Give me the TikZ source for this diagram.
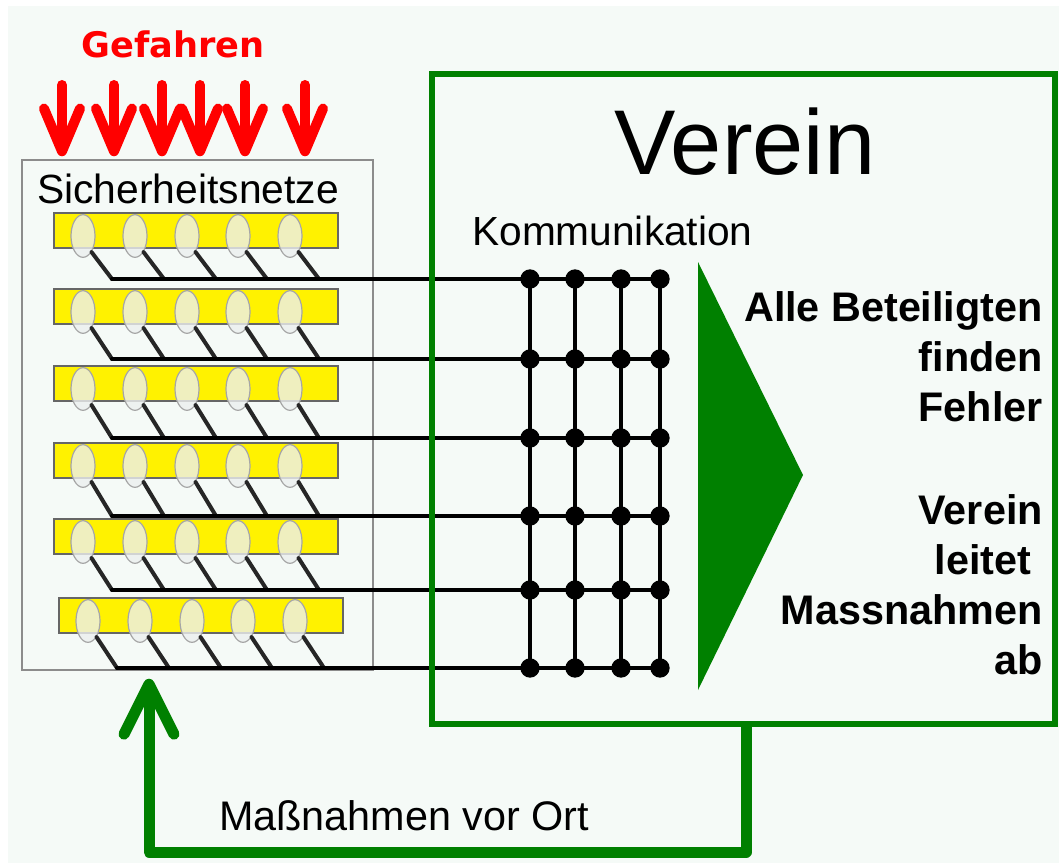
\documentclass[tikz,border=0pt]{standalone}
\usepackage{fontspec}
\setmainfont{Liberation Sans}
\newfontfamily\hazardfont{DejaVu Sans}
\usetikzlibrary{arrows.meta,shapes.geometric,fit}

\definecolor{bg}{HTML}{F5FAF7}
\definecolor{clubgreen}{HTML}{008000}
\definecolor{hazardred}{HTML}{FF0000}
\definecolor{framegray}{HTML}{8C8C8C}
\definecolor{cellgray}{HTML}{ECEFEF}

\begin{document}
\begin{tikzpicture}[x=0.75pt,y=-0.75pt,
  netbox/.style={draw=framegray, line width=1.1pt, inner sep=0},
  clubbox/.style={draw=clubgreen, line width=4.5pt, inner sep=0},
  bar/.style={draw=black!60, line width=0.8pt, fill=yellow,
    minimum width=213pt, minimum height=26.25pt, inner sep=0},
  cell/.style={ellipse, draw=black!35, line width=0.9pt, fill=cellgray,
    fill opacity=0.8, minimum width=18pt, minimum height=32pt, inner sep=0},
  wire/.style={line width=3pt, black, line cap=round},
  lead/.style={line width=3pt, black!85, line cap=round},
  dot/.style={circle, fill=black, minimum size=14.5pt, inner sep=0},
  hazard/.style={hazardred, line width=7.5pt, line cap=round,
    -{Straight Barb[length=32pt, width=27pt, round]}},
  feedback/.style={clubgreen, line width=8.25pt, line join=round,
    -{Straight Barb[length=37.5pt, width=37.5pt, round]}},
  plain/.style={inner sep=0, text=black},
]
\useasboundingbox (0,0) rectangle (1059,863);
\fill[bg] (8,6) rectangle (1059,863);

% frame of the safety nets
\node[netbox, fit={(22,160) (373,670)}] (net) {};
\node[plain, anchor=base west, font=\fontsize{30.6}{36}\selectfont] (netlabel) at (37,203) {Sicherheitsnetze};

% hazards hitting the nets
\node[inner sep=0, anchor=base, text=hazardred,
  font=\hazardfont\bfseries\fontsize{26.4}{30}\selectfont] (danger) at (173,58) {Gefahren};
\foreach \i/\hx in {1/62,2/114,3/162,4/200,5/245,6/305} {
  \coordinate (h-\i) at (\hx,85);
  \draw[hazard, shorten >=2.25pt] (h-\i) -- (h-\i |- net.north);
}

% net strips with their cells and taps
\foreach \r/\dx/\yt/\yb in {1/0/213/279,2/0/289/359,3/0/366/438,4/0/443/516,5/0/519/590,6/5/598/668} {
  \node[bar] (bar-\r) at (196+\dx,\yt+17.5) {};
  \foreach \k/\cx in {1/83,2/135,3/187,4/238,5/290} {
    \node[cell] (cell-\r-\k) at (\cx+\dx,\yt+23) {};
    \coordinate (tap-\r-\k) at (\cx+\dx+29,\yb);
    \draw[lead] (cell-\r-\k.-62) -- (tap-\r-\k);
  }
  \foreach \c/\gx in {1/530,2/575,3/621,4/660}
    \coordinate (hubpt-\r-\c) at (\gx,\yb);
  \draw[wire] (tap-\r-1) -- (hubpt-\r-4);
}

% communication grid
\foreach \c in {1,2,3,4}
  \draw[wire] (hubpt-1-\c) -- (hubpt-6-\c);
\foreach \r in {1,...,6}
  \foreach \c in {1,2,3,4}
    \node[dot] (hub-\r-\c) at (hubpt-\r-\c) {};

% the club
\node[clubbox, fit={(432,74) (1055,724)}] (club) {};
\node[plain, anchor=base, font=\fontsize{69}{80}\selectfont] (title) at (745,175) {Verein};
\node[plain, anchor=base west, font=\fontsize{30.5}{36}\selectfont] (comm) at (472,245) {Kommunikation};
\fill[clubgreen] (698,262) -- (803,475) -- (698,690) -- cycle;
\node[plain, anchor=north east, align=right, font=\bfseries\fontsize{31}{37.5}\selectfont]
  (findings) at (1043,291)
  {Alle Beteiligten\\finden\\Fehler\\[39.75pt]Verein\\leitet\kern0.28em\\Massnahmen\\ab};

% feedback loop back to the nets
\coordinate (loop-r) at (746,852);
\coordinate (loop-l) at (149,852);
\draw[feedback] (club.south -| loop-r) -- (loop-r) -- (loop-l) -- ([yshift=-6pt]net.south -| loop-l);
\node[plain, anchor=base west, font=\fontsize{31}{37}\selectfont] (action) at (219,830) {Maßnahmen vor Ort};
\end{tikzpicture}
\end{document}
